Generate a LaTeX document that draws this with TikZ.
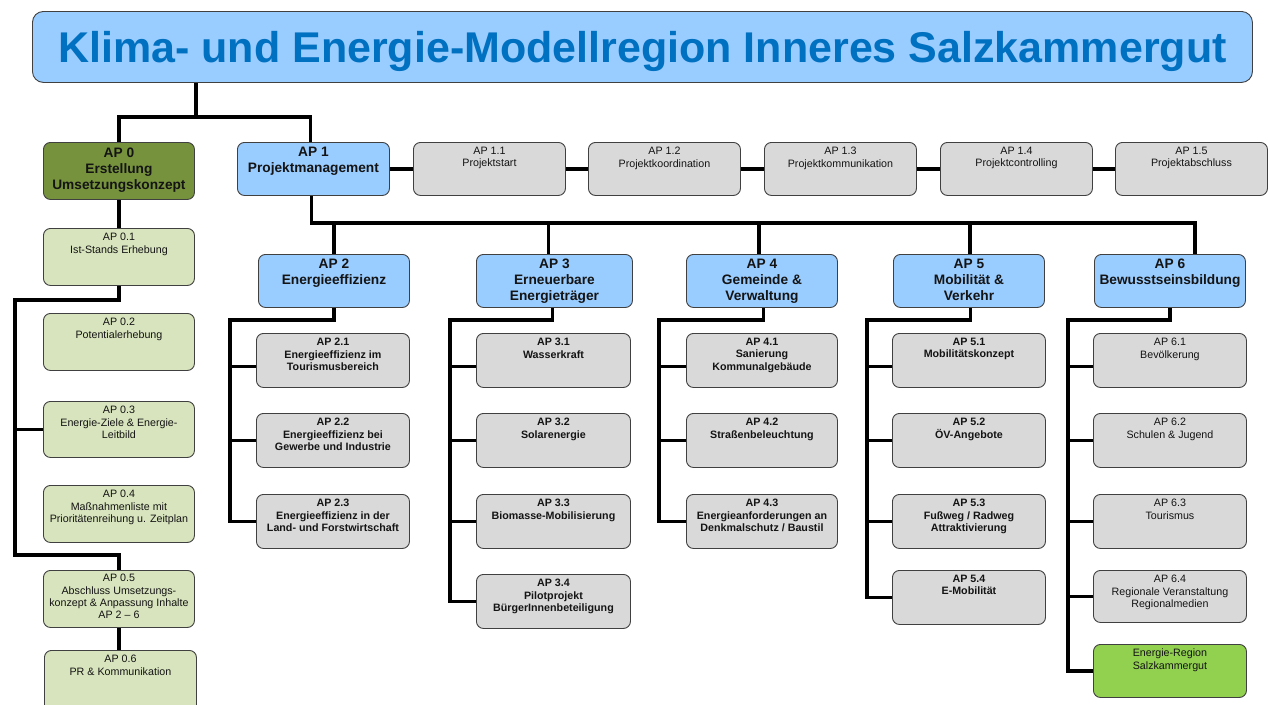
\documentclass[tikz,border=0pt]{standalone}
\usepackage{fontspec}
\setmainfont{Liberation Sans}
\usetikzlibrary{calc}
\definecolor{hdrblue}{HTML}{99CCFF}
\definecolor{titleblue}{HTML}{0070C0}
\definecolor{olive}{HTML}{76923C}
\definecolor{lgreen}{HTML}{D7E4BD}
\definecolor{subgray}{HTML}{D9D9D9}
\definecolor{brgreen}{HTML}{92D050}
\definecolor{boxline}{HTML}{404040}
\definecolor{txt}{HTML}{141414}
\pgfdeclarelayer{bg}
\pgfsetlayers{bg,main}
\tikzset{
  base/.style={draw=boxline, line width=0.9pt, rounded corners=7pt, anchor=north west, inner sep=0pt, minimum height=54pt},
  hdr/.style={base, fill=hdrblue, minimum height=53pt},
  sub/.style={base, fill=subgray},
  grn/.style={base, fill=lgreen, minimum height=57pt, minimum width=151pt},
  lbl/.style={below, align=center, inner sep=0pt, yshift=-5pt, text=txt},
  hdrtxt/.style={lbl, font=\bfseries\fontsize{13.7}{16}\selectfont},
  subtxt/.style={lbl, font=\fontsize{10.7}{12.4}\selectfont},
  subbtxt/.style={lbl, font=\bfseries\fontsize{10.7}{12.4}\selectfont},
  conn/.style={line width=3.3pt, line join=miter, draw=black}
}
\begin{document}
\begin{tikzpicture}[x=1pt,y=-1pt]
\useasboundingbox (0,0) rectangle (1268,704);
\clip (0,0) rectangle (1268,704);

% title
\node[draw=boxline, line width=0.9pt, fill=hdrblue, rounded corners=11pt, anchor=north west,
  minimum width=1220pt, minimum height=71pt, inner sep=0pt, text height=32pt, text depth=0pt,
  font=\bfseries\fontsize{43}{48}\selectfont, text=titleblue] (title) at (32,11)
  {Klima- und Energie-Modellregion Inneres Salzkammergut};

% AP 0 column
\node[base, fill=olive, minimum width=151pt, minimum height=57pt,
  label={[hdrtxt, yshift=-1pt]north:{AP 0\\Erstellung\\Umsetzungskonzept}}] (ap0) at (43,142) {};
\node[grn, label={[subtxt]north:{AP 0.1\\Ist-Stands Erhebung}}] (ap01) at (43,228) {};
\node[grn, label={[subtxt]north:{AP 0.2\\Potentialerhebung}}] (ap02) at (43,313) {};
\node[grn, minimum height=56pt, label={[subtxt]north:{AP 0.3\\Energie-Ziele \& Energie-\\Leitbild}}] (ap03) at (43,401) {};
\node[grn, label={[subtxt]north:{AP 0.4\\Maßnahmenliste mit\\Prioritätenreihung u. Zeitplan}}] (ap04) at (43,485) {};
\node[grn, label={[subtxt, yshift=1pt]north:{AP 0.5\\Abschluss Umsetzungs-\\konzept \& Anpassung Inhalte\\AP 2 – 6}}] (ap05) at (43,570) {};
\node[grn, minimum width=152pt, minimum height=62pt, label={[subtxt]north:{AP 0.6\\PR \& Kommunikation}}] (ap06) at (44,650) {};

% AP 1 row
\node[hdr, minimum width=152pt, label={[hdrtxt]north:{AP 1\\Projektmanagement}}] (ap1) at (237,142) {};
\node[sub, minimum width=152pt, minimum height=53pt, label={[subtxt]north:{AP 1.1\\Projektstart}}] (ap11) at (413,142) {};
\node[sub, minimum width=152pt, minimum height=53pt, label={[subtxt]north:{AP 1.2\\Projektkoordination}}] (ap12) at (588,142) {};
\node[sub, minimum width=152pt, minimum height=53pt, label={[subtxt]north:{AP 1.3\\Projektkommunikation}}] (ap13) at (764,142) {};
\node[sub, minimum width=152pt, minimum height=53pt, label={[subtxt]north:{AP 1.4\\Projektcontrolling}}] (ap14) at (940,142) {};
\node[sub, minimum width=152pt, minimum height=53pt, label={[subtxt]north:{AP 1.5\\Projektabschluss}}] (ap15) at (1115,142) {};

% header row
\node[hdr, minimum width=151pt, label={[hdrtxt]north:{AP 2\\Energieeffizienz}}] (ap2) at (258,254) {};
\node[hdr, minimum width=156pt, label={[hdrtxt]north:{AP 3\\Erneuerbare\\Energieträger}}] (ap3) at (476,254) {};
\node[hdr, minimum width=151pt, label={[hdrtxt]north:{AP 4\\Gemeinde \&\\Verwaltung}}] (ap4) at (686,254) {};
\node[hdr, minimum width=151pt, label={[hdrtxt]north:{AP 5\\Mobilität \&\\Verkehr}}] (ap5) at (893,254) {};
\node[hdr, minimum width=151pt, label={[hdrtxt]north:{AP 6\\Bewusstseinsbildung}}] (ap6) at (1094,254) {};

% AP 2 subs
\node[sub, minimum width=153pt, label={[subbtxt]north:{AP 2.1\\Energieeffizienz im\\Tourismusbereich}}] (ap21) at (256,333) {};
\node[sub, minimum width=153pt, label={[subbtxt]north:{AP 2.2\\Energieeffizienz bei\\Gewerbe und Industrie}}] (ap22) at (256,413) {};
\node[sub, minimum width=153pt, label={[subbtxt]north:{AP 2.3\\Energieeffizienz in der\\Land- und Forstwirtschaft}}] (ap23) at (256,494) {};
% AP 3 subs
\node[sub, minimum width=154pt, label={[subbtxt]north:{AP 3.1\\Wasserkraft}}] (ap31) at (476,333) {};
\node[sub, minimum width=154pt, label={[subbtxt]north:{AP 3.2\\Solarenergie}}] (ap32) at (476,413) {};
\node[sub, minimum width=154pt, label={[subbtxt]north:{AP 3.3\\Biomasse-Mobilisierung}}] (ap33) at (476,494) {};
\node[sub, minimum width=154pt, label={[subbtxt]north:{AP 3.4\\Pilotprojekt\\BürgerInnenbeteiligung}}] (ap34) at (476,574) {};
% AP 4 subs
\node[sub, minimum width=151pt, label={[subbtxt]north:{AP 4.1\\Sanierung\\Kommunalgebäude}}] (ap41) at (686,333) {};
\node[sub, minimum width=151pt, label={[subbtxt]north:{AP 4.2\\Straßenbeleuchtung}}] (ap42) at (686,413) {};
\node[sub, minimum width=151pt, label={[subbtxt]north:{AP 4.3\\Energieanforderungen an\\Denkmalschutz / Baustil}}] (ap43) at (686,494) {};
% AP 5 subs
\node[sub, minimum width=153pt, label={[subbtxt]north:{AP 5.1\\Mobilitätskonzept}}] (ap51) at (892,333) {};
\node[sub, minimum width=153pt, label={[subbtxt]north:{AP 5.2\\ÖV-Angebote}}] (ap52) at (892,413) {};
\node[sub, minimum width=153pt, label={[subbtxt]north:{AP 5.3\\Fußweg / Radweg\\Attraktivierung}}] (ap53) at (892,494) {};
\node[sub, minimum width=153pt, label={[subbtxt]north:{AP 5.4\\E-Mobilität}}] (ap54) at (892,570) {};
% AP 6 subs
\node[sub, minimum width=153pt, label={[subtxt]north:{AP 6.1\\Bevölkerung}}] (ap61) at (1093,333) {};
\node[sub, minimum width=153pt, label={[subtxt]north:{AP 6.2\\Schulen \& Jugend}}] (ap62) at (1093,413) {};
\node[sub, minimum width=153pt, label={[subtxt]north:{AP 6.3\\Tourismus}}] (ap63) at (1093,494) {};
\node[sub, minimum width=153pt, minimum height=52pt, label={[subtxt]north:{AP 6.4\\Regionale Veranstaltung\\Regionalmedien}}] (ap64) at (1093,570) {};
\node[base, fill=brgreen, minimum width=153pt, minimum height=53pt, label={[subtxt]north:{Energie-Region\\Salzkammergut}}] (er) at (1093,644) {};

% connectors
\begin{pgfonlayer}{bg}
\coordinate (t0) at (196,117);
\draw[conn] (t0 |- title.south) -- (t0);
\draw[conn] (ap0.north) |- (t0) -| ([xshift=-3pt]ap1.north);

\draw[conn] (ap0.south) -- (ap01.north);
\coordinate (l0a) at (15,300);
\coordinate (l0b) at (15,555);
\draw[conn] (ap01.south) |- (l0a) -- (l0b) -| (ap05.north);
\draw[conn] ($(ap02.west)+(0,-1)$) -- ($(ap02.west)+(0,-1)$ -| l0a);
\draw[conn] (ap03.west) -- (ap03.west -| l0a);
\draw[conn] ($(ap04.west)+(0,-2)$) -- ($(ap04.west)+(0,-2)$ -| l0a);
\draw[conn] (ap05.south) -- (ap05.south |- ap06.north);

\draw[conn] (ap1.east) -- (ap11.west);
\draw[conn] (ap11.east) -- (ap12.west);
\draw[conn] (ap12.east) -- (ap13.west);
\draw[conn] (ap13.east) -- (ap14.west);
\draw[conn] (ap14.east) -- (ap15.west);

\coordinate (b2) at (1195,223);
\draw[conn] ([xshift=-2pt]ap1.south) |- (b2) -- (b2 |- ap6.north);
\draw[conn] (b2 -| ap2.north) -- (ap2.north);
\draw[conn] (b2 -| ap3.north) ++(-6,0) coordinate (d3) -- (d3 |- ap3.north);
\draw[conn] (b2 -| ap4.north) ++(-3,0) coordinate (d4) -- (d4 |- ap4.north);
\draw[conn] (b2 -| ap5.north) ++(1,0) coordinate (d5) -- (d5 |- ap5.north);

% AP2 bus
\coordinate (c2) at (230,320);
\draw[conn] (ap2.south) |- (c2) |- (ap23.west);
\coordinate (s21) at ($(ap21.west)+(0,6)$);
\draw[conn] (s21 -| c2) -- (s21);
\draw[conn] (ap22.west -| c2) -- (ap22.west);
% AP3 bus
\coordinate (c3) at (450,320);
\draw[conn] ([xshift=-2pt]ap3.south) |- (c3) |- (ap34.west);
\coordinate (s31) at ($(ap31.west)+(0,6)$);
\draw[conn] (s31 -| c3) -- (s31);
\draw[conn] (ap32.west -| c3) -- (ap32.west);
\draw[conn] (ap33.west -| c3) -- (ap33.west);
% AP4 bus
\coordinate (c4) at (659,320);
\draw[conn] ([xshift=1.5pt]ap4.south) |- (c4) |- (ap43.west);
\coordinate (s41) at ($(ap41.west)+(0,6)$);
\draw[conn] (s41 -| c4) -- (s41);
\draw[conn] (ap42.west -| c4) -- (ap42.west);
% AP5 bus
\coordinate (c5) at (867,320);
\draw[conn] ([xshift=1.5pt]ap5.south) |- (c5) |- (ap54.west);
\coordinate (s51) at ($(ap51.west)+(0,6)$);
\draw[conn] (s51 -| c5) -- (s51);
\draw[conn] (ap52.west -| c5) -- (ap52.west);
\draw[conn] (ap53.west -| c5) -- (ap53.west);
% AP6 bus
\coordinate (c6) at (1068,320);
\draw[conn] (ap6.south) |- (c6) |- (er.west);
\coordinate (s61) at ($(ap61.west)+(0,6)$);
\draw[conn] (s61 -| c6) -- (s61);
\draw[conn] (ap62.west -| c6) -- (ap62.west);
\draw[conn] (ap63.west -| c6) -- (ap63.west);
\draw[conn] (ap64.west -| c6) -- (ap64.west);
\end{pgfonlayer}
\end{tikzpicture}
\end{document}
